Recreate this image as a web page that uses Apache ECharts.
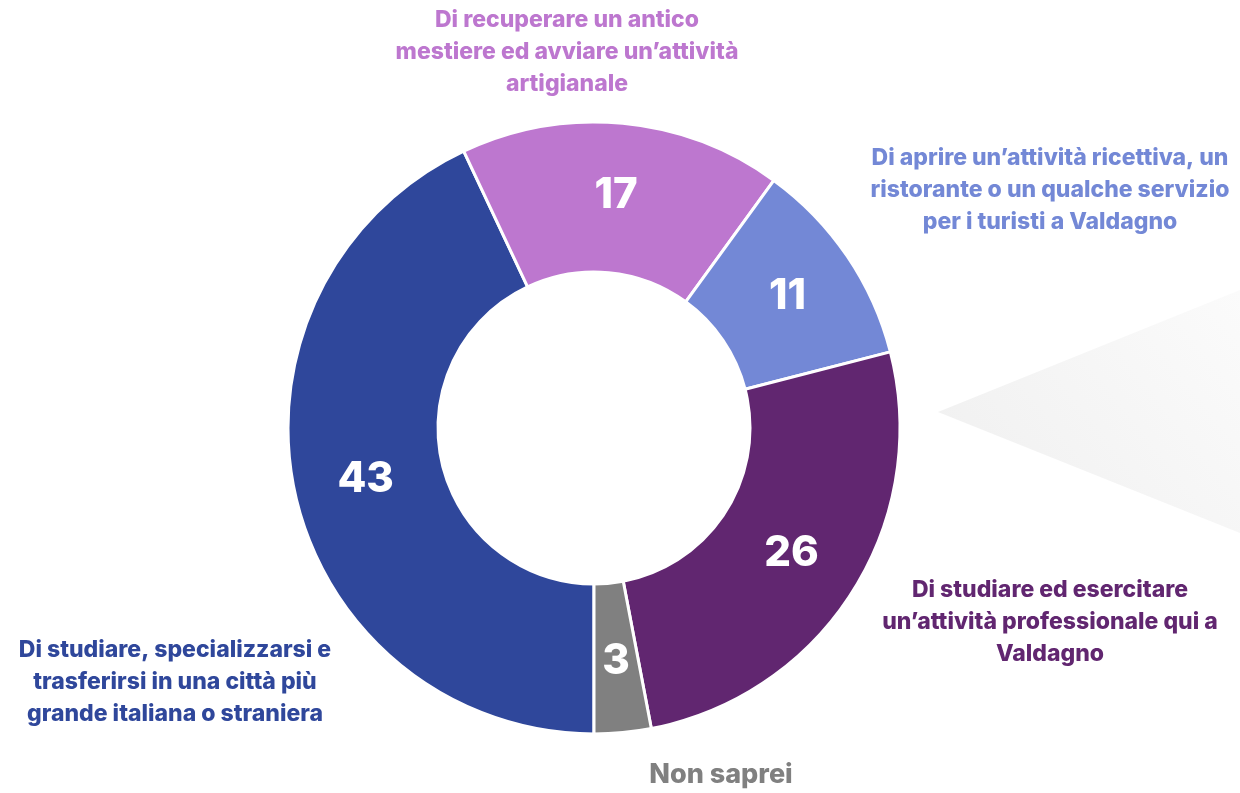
<!DOCTYPE html>
<html>
<head>
<meta charset="utf-8">
<title>Valdagno - futuro</title>
<script src="https://cdn.jsdelivr.net/npm/echarts@6/dist/echarts.min.js"></script>
<style>
  html, body { margin: 0; padding: 0; background: #fff; }
  #main { width: 1240px; height: 793px; }
</style>
</head>
<body>
<div id="main"></div>
<script>
// dati del grafico
const categories = [
  'Di studiare, specializzarsi e\ntrasferirsi in una città più\ngrande italiana o straniera',
  'Di recuperare un antico\nmestiere ed avviare un’attività\nartigianale',
  'Di aprire un’attività ricettiva, un\nristorante o un qualche servizio\nper i turisti a Valdagno',
  'Di studiare ed esercitare\nun’attività professionale qui a\nValdagno',
  'Non saprei'
]
const values = [43, 17, 11, 26, 3]

const palette = ['#2f479b', '#bd77cf', '#7388d6', '#612670', '#808080']
// posizione delle etichette esterne (centro del blocco di testo)
const labelPos = [[175, 682], [567, 52], [1050, 190], [1050, 622], [721, 775]]

const pieData = categories.map((name, i) => ({
  name: name,
  value: values[i],
  itemStyle: { color: palette[i] }
}))

const chart = echarts.init(document.getElementById('main'))

const option = {
  animation: false,
  graphic: [
    {
      type: 'polygon',
      z: -10,
      shape: { points: [[938, 412], [1240, 290], [1240, 533]] },
      style: {
        fill: new echarts.graphic.LinearGradient(0, 1, 1, 0, [
          { offset: 0, color: '#efefef' },
          { offset: 1, color: '#fbfbfb' }
        ])
      }
    }
  ],
  series: [
    {
      type: 'pie',
      center: [594, 428],
      radius: [156, 306],
      startAngle: -90,
      clockwise: true,
      avoidLabelOverlap: false,
      silent: true,
      data: pieData,
      itemStyle: { borderColor: '#fff', borderWidth: 3 },
      label: {
        show: true,
        position: 'inside',
        formatter: '{c}',
        color: '#fff',
        fontFamily: 'Inter',
        fontWeight: 800,
        fontSize: 42
      },
      labelLine: { show: false }
    },
    {
      // serie trasparente solo per i testi delle categorie
      type: 'pie',
      center: [594, 428],
      radius: [156, 306],
      startAngle: -90,
      clockwise: true,
      silent: true,
      z: 1,
      data: pieData.map((d, i) => ({
        name: d.name,
        value: d.value,
        itemStyle: { color: 'rgba(0,0,0,0)' },
        label: { color: palette[i], fontSize: i === 4 ? 27 : 23 }
      })),
      label: {
        show: true,
        position: 'outside',
        formatter: '{b}',
        fontFamily: 'Inter',
        fontWeight: 800,
        lineHeight: 32,
        align: 'center',
        overflow: 'none',
        width: 500
      },
      labelLine: { show: false },
      labelLayout: (params) => {
        const p = labelPos[params.dataIndex]
        return { x: p[0], y: p[1], align: 'center', verticalAlign: 'middle' }
      }
    }
  ]
}

option && chart.setOption(option)
</script>
</body>
</html>
